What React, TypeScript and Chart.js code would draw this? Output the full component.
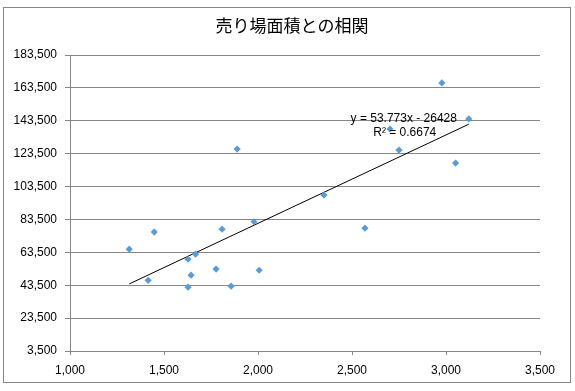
import { useEffect, useRef } from 'react';
import { Chart, registerables } from 'chart.js';
Chart.register(...registerables);

const TITLE = '売り場面積との相関';
const areaX = [1315, 1448, 1416, 1628, 1668, 1644, 1628, 1777, 1809, 1857, 1889, 2006, 1979, 2351, 2978, 3121, 2702, 2750, 3051, 2569];
const salesY = [65400, 75800, 46500, 59300, 62400, 49600, 42300, 53300, 77600, 42900, 126300, 52600, 82100, 98300, 166500, 144600, 138500, 125700, 117800, 78200];
const TREND_SLOPE = 53.773;
const TREND_INTERCEPT = -26428;
const TREND_LABEL = 'y = 53.773x - 26428';
const R2_LABEL = 'R² = 0.6674';
const X_MIN = 1000, X_MAX = 3500, X_STEP = 500;
const Y_MIN = 3500, Y_MAX = 183500, Y_STEP = 20000;

export default function App() {
  const ref = useRef<HTMLCanvasElement | null>(null);
  useEffect(() => {
    document.body.style.margin = '0';
    const points = areaX.map((x, i) => ({ x, y: salesY[i] }));
    const xLo = Math.min(...areaX);
    const xHi = Math.max(...areaX);
    const trend = [xLo, xHi].map((x) => ({ x, y: TREND_SLOPE * x + TREND_INTERCEPT }));
    const fmt = (v: number) => Number(v).toLocaleString('en-US');
    const deco = {
      id: 'deco',
      beforeDraw(chart: any) {
        const c = chart.ctx;
        c.save();
        c.fillStyle = '#fff';
        c.fillRect(0, 0, chart.width, chart.height);
        c.strokeStyle = '#868686';
        c.lineWidth = 1;
        c.strokeRect(3.5, 7.5, 567, 375);
        c.fillStyle = '#000';
        c.font = '17px "Noto Sans CJK JP"';
        c.textAlign = 'center';
        c.textBaseline = 'middle';
        c.fillText(TITLE, 292, 26);
        c.restore();
      },
      afterDraw(chart: any) {
        const c = chart.ctx;
        const meta = chart.getDatasetMeta(1);
        const end = meta.data[1];
        c.save();
        c.fillStyle = '#000';
        c.font = '12px "Liberation Sans"';
        c.textAlign = 'center';
        c.textBaseline = 'middle';
        c.fillText(TREND_LABEL, end.x - 65, end.y - 6);
        c.fillText(R2_LABEL, end.x - 64, end.y + 8);
        c.restore();
      },
    };
    const chart = new Chart(ref.current!, {
      type: 'scatter',
      data: {
        datasets: [
          {
            data: points,
            backgroundColor: '#5B9BD5',
            borderColor: '#5B9BD5',
            pointStyle: 'rectRot',
            pointRadius: 3.6,
            borderWidth: 0,
          },
          {
            type: 'line',
            data: trend,
            borderColor: '#000',
            borderWidth: 1,
            pointRadius: 0,
            fill: false,
          } as any,
        ],
      },
      options: {
        animation: false,
        responsive: false,
        layout: { padding: { left: 4, right: 35, top: 55, bottom: 0 } },
        plugins: { legend: { display: false }, tooltip: { enabled: false }, title: { display: false } },
        scales: {
          x: {
            type: 'linear',
            min: X_MIN,
            max: X_MAX,
            ticks: { stepSize: X_STEP, callback: (v: any) => fmt(v), color: '#000', font: { family: 'Liberation Sans', size: 12 }, padding: 8, maxRotation: 0 },
            grid: { drawOnChartArea: false, drawTicks: true, tickLength: 4, color: '#868686' },
            border: { color: '#868686' },
            afterFit: (s: any) => { s.height = 40; },
          },
          y: {
            type: 'linear',
            min: Y_MIN,
            max: Y_MAX,
            ticks: { stepSize: Y_STEP, callback: (v: any) => fmt(v), color: '#000', font: { family: 'Liberation Sans', size: 12 }, padding: 8 },
            grid: { color: '#868686', tickLength: 5 },
            border: { color: '#868686' },
            afterFit: (s: any) => { s.width = 66; },
          },
        },
      },
      plugins: [deco],
    });
    return () => chart.destroy();
  }, []);
  return (
    <div style={{ position: 'absolute', left: 0, top: 0, width: 575, height: 391 }}>
      <canvas ref={ref} width={575} height={391} style={{ width: 575, height: 391, display: 'block' }} />
    </div>
  );
}
